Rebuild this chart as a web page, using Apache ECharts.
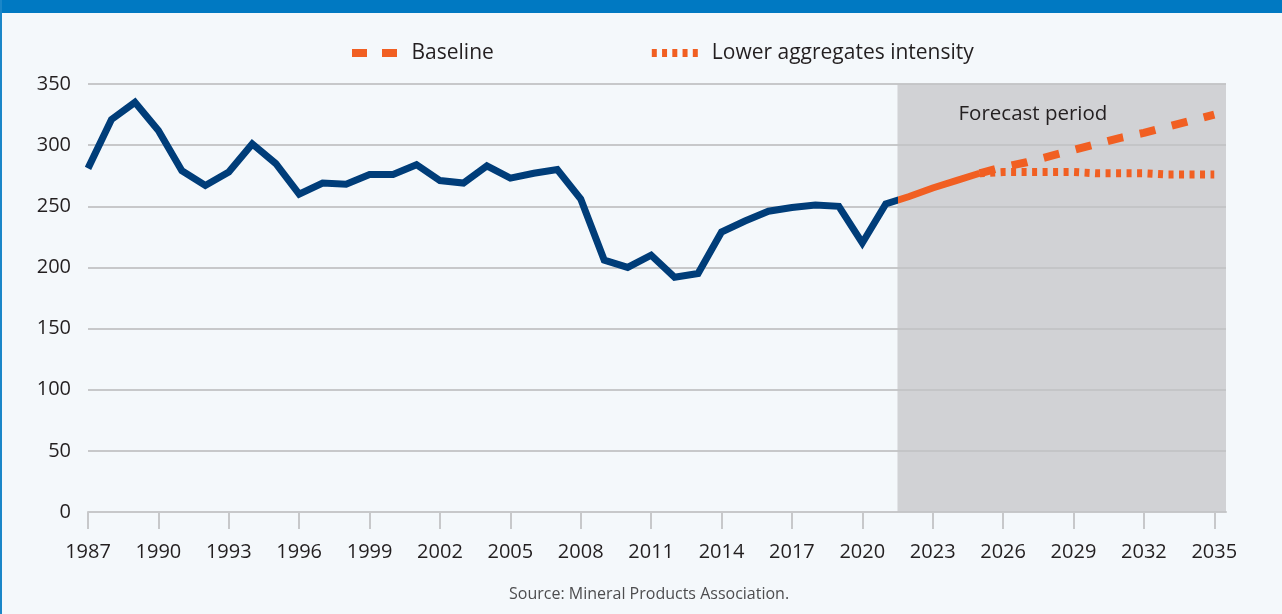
<!DOCTYPE html>
<html><head><meta charset="utf-8">
<script src="https://cdn.jsdelivr.net/npm/echarts@6/dist/echarts.min.js"></script>
<style>html,body{margin:0;padding:0;background:#f4f8fb}#c{width:1282px;height:614px}</style>
</head><body><div id="c"></div>
<script>
const actualYears = [1987,1988,1989,1990,1991,1992,1993,1994,1995,1996,1997,1998,1999,2000,2001,2002,2003,2004,2005,2006,2007,2008,2009,2010,2011,2012,2013,2014,2015,2016,2017,2018,2019,2020,2021];
const actualValues = [281,321,335,312,279,267,278,301,285,260,269,268,276,276,284,271,269,283,273,277,280,256,206,200,210,192,195,229,238,246,249,251,250,220,252];
const nearYears = [2022,2023,2024,2025];
const nearValues = [258,265,271,277];
const scenarioYears = [2025,2026,2027,2028,2029,2030,2031,2032,2033,2034,2035];
const baselineValues = [277,282,286,291,296,301,306,310,315,320,325];
const lowerValues = [277,278,278,278,278,277,277,277,276,276,276];
const tickYears = [1987,1990,1993,1996,1999,2002,2005,2008,2011,2014,2017,2020,2023,2026,2029,2032,2035];
const forecastStart = 2021.5;
const forecastEnd = 2035.5;

const BLUE = '#003d79', ORANGE = '#f15f22', TXT = '#231f20', GRID = '#c7c8ca';
const FONT = 'Open Sans';

const mainData = actualYears.map((y,i)=>[y, actualValues[i]]).concat(nearYears.map((y,i)=>[y, nearValues[i]]));
const baseData = scenarioYears.map((y,i)=>[y, baselineValues[i]]);
const lowData = scenarioYears.map((y,i)=>[y, lowerValues[i]]);

const chart = echarts.init(document.getElementById('c'));
const option = {
  animation: false,
  backgroundColor: '#f4f8fb',
  textStyle: {fontFamily: FONT},
  grid: {left: 88, right: 56, top: 84, bottom: 102},
  legend: {
    left: 347, top: 36,
    itemWidth: 46, itemHeight: 8, itemGap: 158,
    data: [
      {name: 'Baseline', icon: 'path://M0,0h15v8h-15z M30,0h15v8h-15z'},
      {name: 'Lower aggregates intensity', icon: 'path://M0,0h5v8h-5z M10.25,0h5v8h-5z M20.5,0h5v8h-5z M30.75,0h5v8h-5z M41,0h5v8h-5z'}
    ],
    textStyle: {fontSize: 21, color: TXT, fontFamily: FONT, lineHeight: 24, padding: [0,0,0,9]},
    selectedMode: false
  },
  xAxis: {
    type: 'value', min: 1987, max: forecastEnd,
    axisLine: {show: true, lineStyle: {color: GRID, width: 2}},
    axisTick: {show: true, customValues: tickYears, length: 17, lineStyle: {color: GRID, width: 2}},
    axisLabel: {customValues: tickYears, fontSize: 20, color: TXT, fontFamily: FONT, margin: 30, formatter: v => String(v)},
    splitLine: {show: false}
  },
  yAxis: {
    type: 'value', min: 0, max: 350, interval: 50,
    axisLine: {show: false}, axisTick: {show: false},
    axisLabel: {fontSize: 20, color: TXT, fontFamily: FONT, margin: 17},
    splitLine: {lineStyle: {color: GRID, width: 2}}
  },
  series: [
    {
      name: 'Historical', type: 'line', data: mainData, symbol: 'none',
      lineStyle: {width: 7, color: BLUE, join: 'miter', cap: 'butt'},
      z: 3,
      markArea: {
        silent: true,
        itemStyle: {color: 'rgba(195,196,198,0.72)'},
        label: {show: true, position: [61, 20], color: TXT, fontSize: 20.5, fontFamily: FONT, align: 'left', verticalAlign: 'top'},
        data: [[{xAxis: forecastStart, name: 'Forecast period'}, {xAxis: forecastEnd}]]
      }
    },
    {
      name: 'Baseline', type: 'line', data: baseData, symbol: 'none', color: ORANGE,
      lineStyle: {width: 8, color: ORANGE, type: [16, 17], cap: 'butt'}
    },
    {
      name: 'Lower aggregates intensity', type: 'line', data: lowData, symbol: 'none', color: ORANGE,
      lineStyle: {width: 8, color: ORANGE, type: [5, 5.5], cap: 'butt'}
    }
  ],
  graphic: [
    {type: 'rect', left: 0, top: 0, shape: {width: 1282, height: 13}, style: {fill: '#0079c2'}},
    {type: 'rect', left: 0, top: 0, shape: {width: 2, height: 614}, style: {fill: '#1a86c8'}},
    {type: 'text', left: 509, top: 586, style: {text: 'Source: Mineral Products Association.', fill: '#4d4d4f', fontSize: 16, fontFamily: FONT}}
  ]
};
chart.setOption(option);

// colour switch of the main line at the start of the forecast period
const x0 = chart.convertToPixel({gridIndex: 0}, [mainData[0][0], 0])[0];
const x1 = chart.convertToPixel({gridIndex: 0}, [mainData[mainData.length - 1][0], 0])[0];
const xs = chart.convertToPixel({gridIndex: 0}, [forecastStart, 0])[0];
const t = (xs - x0) / (x1 - x0);
chart.setOption({
  series: [{
    lineStyle: {
      color: new echarts.graphic.LinearGradient(x0, 0, x1, 0, [
        {offset: 0, color: BLUE}, {offset: t, color: BLUE},
        {offset: t, color: ORANGE}, {offset: 1, color: ORANGE}
      ], true)
    }
  }]
});
</script></body></html>
